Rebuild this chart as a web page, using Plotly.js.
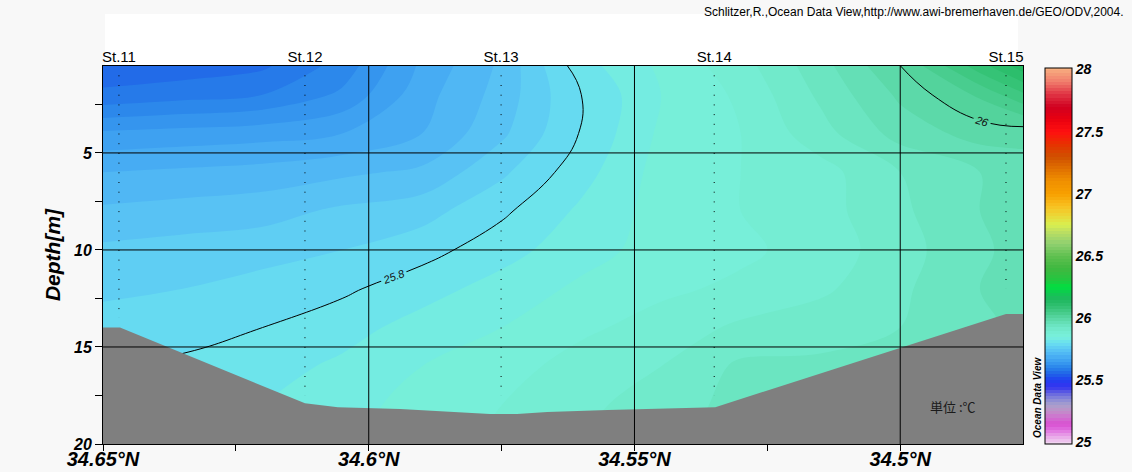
<!DOCTYPE html>
<html><head><meta charset="utf-8">
<script src="https://cdn.plot.ly/plotly-3.0.1.min.js"></script>
<style>html,body{margin:0;padding:0;background:#f8f8f8}</style>
</head><body><div id="chart" style="width:1132px;height:472px"></div>
<script>
// ---- Grid of the gridded temperature field (latitude x depth) ----
const gridLat = [34.65, 34.635, 34.62, 34.605, 34.59, 34.575, 34.56, 34.545, 34.53, 34.515, 34.50, 34.485, 34.4769];
const gridDepth = [0.5, 2, 4, 6, 8, 10, 12, 14, 16, 18, 20];
// temperature rows (°C), one per depth
const tD0_5 = [25.56, 25.56, 25.57, 25.61, 25.68, 25.73, 25.815, 25.855, 25.89, 25.94, 26.00, 26.09, 26.14];
const tD2   = [25.58, 25.59, 25.60, 25.63, 25.69, 25.735, 25.80, 25.85, 25.88, 25.93, 25.98, 26.03, 26.07];
const tD4   = [25.655, 25.66, 25.665, 25.675, 25.70, 25.745, 25.802, 25.855, 25.875, 25.915, 25.96, 25.985, 25.985];
const tD6   = [25.70, 25.705, 25.71, 25.72, 25.73, 25.77, 25.815, 25.86, 25.875, 25.89, 25.925, 25.95, 25.96];
const tD8   = [25.73, 25.735, 25.74, 25.755, 25.765, 25.795, 25.83, 25.86, 25.875, 25.89, 25.92, 25.95, 25.96];
const tD10  = [25.755, 25.76, 25.765, 25.775, 25.79, 25.815, 25.84, 25.86, 25.87, 25.885, 25.915, 25.945, 25.96];
const tD12  = [25.77, 25.775, 25.785, 25.795, 25.815, 25.835, 25.855, 25.87, 25.88, 25.895, 25.92, 25.95, 25.96];
const tD14  = [25.785, 25.79, 25.80, 25.815, 25.835, 25.85, 25.87, 25.885, 25.905, 25.915, 25.925, 25.945, 25.955];
const tD16  = [25.80, 25.805, 25.815, 25.83, 25.85, 25.865, 25.885, 25.9, 25.93, 25.93, 25.93, 25.945, 25.955];
const tD18  = [25.81, 25.815, 25.825, 25.84, 25.86, 25.875, 25.895, 25.91, 25.935, 25.935, 25.935, 25.945, 25.955];
const tD20  = [25.815, 25.82, 25.83, 25.845, 25.865, 25.88, 25.90, 25.915, 25.94, 25.94, 25.94, 25.95, 25.955];
const tempRows = [tD0_5, tD2, tD4, tD6, tD8, tD10, tD12, tD14, tD16, tD18, tD20];

// ---- Stations ----
const stationNames = ["St.11", "St.12", "St.13", "St.14", "St.15"];
const stationLat = [34.647, 34.612, 34.5751, 34.535, 34.4801];
const stationTopDepth = [1, 1, 1, 1, 1];
const stationSampleBottom = [13.5, 17.5, 17.5, 17.5, 12];

// ---- Bottom topography ----
const bottomLat = [34.65, 34.6468, 34.612, 34.6058, 34.5941, 34.5853, 34.5772, 34.5721, 34.5664, 34.555, 34.5439, 34.5348, 34.4801, 34.4769];
const bottomDepth = [14.0, 14.0, 17.9, 18.1, 18.2, 18.35, 18.45, 18.45, 18.35, 18.25, 18.15, 18.1, 13.3, 13.3];

// ---- Axes ----
const xRange = [34.65, 34.4769];
const yRange = [20, 0.52];
const xTickVals = [34.65, 34.6, 34.55, 34.5];
const xTickText = ["34.65°N", "34.6°N", "34.55°N", "34.5°N"];
const xMinorVals = [34.625, 34.575, 34.525];
const yTickVals = [5, 10, 15, 20];
const yMinorVals = [2.5, 7.5, 12.5, 17.5];
const contourLineLevels = [25.8, 26.0];

// ---- Colour bar (ODV style) ----
const cbTemps  = [25.0, 25.05, 25.1, 25.15, 25.2, 25.25, 25.3, 25.35, 25.4, 25.45, 25.5, 25.55, 25.6, 25.65, 25.7, 25.75, 25.8, 25.85, 25.9, 25.95, 26.0, 26.05, 26.1, 26.15, 26.2, 26.25, 26.3, 26.4, 26.5, 26.6, 26.7, 26.75, 26.85, 26.9, 27.0, 27.1, 27.2, 27.3, 27.4, 27.5, 27.6, 27.7, 27.8, 27.9, 28.0];
const cbColors = ["#f0d4f0", "#e8a4e8", "#e070e0", "#d850d0", "#d070d0", "#c090c8", "#a8a0cc", "#8888d8", "#6262e0", "#3434f0", "#2040f0", "#2064e8", "#2882ea", "#3a9cf0", "#4cb2f4", "#5cc8f4", "#6ae0f0", "#78f0dc", "#74ecd0", "#68e2bc", "#58d6a2", "#44ca88", "#30c070", "#20b860", "#10c850", "#00e040", "#20c840", "#40b840", "#60c050", "#90d070", "#c0e060", "#d8f050", "#f0d030", "#f8c020", "#f8a000", "#f09000", "#e07000", "#d05000", "#e83000", "#ff1010", "#e80010", "#d00020", "#e03444", "#f07c6c", "#f8b080"];
const cbTickVals = [25, 25.5, 26, 26.5, 27, 27.5, 28];
const cbTickText = ["25", "25.5", "26", "26.5", "27", "27.5", "28"];

const cStart = 25, cEnd = 28, cSize = 0.025;
const nc = Math.floor((cEnd - cStart) / cSize + 1e-6) + 1;
const tLo = cStart - cSize / 2, tSpan = nc * cSize;
const colorscale = cbTemps.map((t, i) => [Math.min(1, Math.max(0, (t - tLo) / tSpan)), cbColors[i]]);
colorscale[0][0] = 0; colorscale[colorscale.length - 1][0] = 1;

const FONT = "Liberation Sans, Arial, sans-serif";

const traces = [];
traces.push({
  type: 'contour', x: gridLat, y: gridDepth, z: tempRows,
  colorscale: colorscale,
  autocontour: false,
  contours: {coloring: 'fill', start: cStart, end: cEnd, size: cSize, showlines: false},
  line: {width: 0},
  hoverinfo: 'skip',
  colorbar: {
    thickness: 27, thicknessmode: 'pixels', len: 376, lenmode: 'pixels',
    x: 1.0239, xanchor: 'left', xpad: 0, y: 0.4974, yanchor: 'middle', ypad: 0,
    outlinecolor: 'black', outlinewidth: 1,
    tickmode: 'array', tickvals: cbTickVals, ticktext: cbTickText, ticks: '',
    tickfont: {family: FONT, size: 14, weight: 'bold', style: 'italic', color: 'black'}
  }
});
traces.push({
  type: 'contour', x: gridLat, y: gridDepth, z: tempRows, showscale: false,
  autocontour: false,
  contours: {coloring: 'none', start: contourLineLevels[0], end: contourLineLevels[1], size: contourLineLevels[1] - contourLineLevels[0],
    showlabels: true, labelfont: {family: FONT, size: 11, style: 'italic', color: '#111'}},
  line: {color: 'black', width: 1, smoothing: 1.3},
  hoverinfo: 'skip'
});
traces.push({
  type: 'scatter', mode: 'lines',
  x: bottomLat.concat([xRange[1], xRange[0]]),
  y: bottomDepth.concat([20, 20]),
  fill: 'toself', fillcolor: '#7f7f7f', line: {width: 0, color: '#7f7f7f'},
  hoverinfo: 'skip', showlegend: false
});
stationLat.forEach((lat, i) => {
  traces.push({
    type: 'scatter', mode: 'lines', xaxis: 'x2', yaxis: 'y',
    x: [lat, lat], y: [stationTopDepth[i], stationSampleBottom[i]],
    line: {color: 'black', width: 1, dash: '1px,8.7px'},
    hoverinfo: 'skip', showlegend: false
  });
});

const shapes = [];
xTickVals.slice(1).forEach(v => shapes.push({type: 'line', xref: 'x', yref: 'paper', x0: v, x1: v, y0: 0, y1: 1, line: {color: 'black', width: 1}, layer: 'above'}));
yTickVals.slice(0, 3).forEach(v => shapes.push({type: 'line', xref: 'paper', yref: 'y', x0: 0, x1: 1, y0: v, y1: v, line: {color: 'black', width: 1}, layer: 'above'}));
shapes.push({type: 'rect', xref: 'paper', yref: 'paper', x0: 0.0022, x1: 0.9946, y0: 1.0, y1: 1.1376, fillcolor: 'white', line: {width: 0}, layer: 'below'});

const layout = {
  width: 1132, height: 472,
  margin: {l: 103, r: 109, t: 66, b: 28, pad: 0},
  paper_bgcolor: '#f8f8f8', plot_bgcolor: 'white',
  font: {family: FONT, color: 'black'},
  showlegend: false,
  xaxis: {
    range: xRange, autorange: false, tickmode: 'array', tickvals: xTickVals, ticktext: xTickText,
    ticks: 'outside', ticklen: 6, tickcolor: 'black', tickwidth: 1, ticklabelstandoff: -9,
    minor: {tickmode: 'array', tickvals: xMinorVals, ticks: 'outside', ticklen: 6, tickcolor: 'black'},
    showline: true, mirror: true, linecolor: 'black', linewidth: 1,
    showgrid: false, zeroline: false, automargin: false,
    tickfont: {family: FONT, size: 20, weight: 'bold', style: 'italic', color: 'black'}
  },
  xaxis2: {
    overlaying: 'x', side: 'top', range: xRange, autorange: false,
    tickmode: 'array', tickvals: stationLat, ticktext: stationNames, ticks: '',
    showline: false, showgrid: false, zeroline: false, automargin: false,
    tickfont: {family: FONT, size: 15, color: 'black'}
  },
  yaxis: {
    range: yRange, autorange: false, tickmode: 'array', tickvals: yTickVals,
    ticks: 'outside', ticklen: 7, tickcolor: 'black',
    minor: {tickmode: 'array', tickvals: yMinorVals, ticks: 'outside', ticklen: 7, tickcolor: 'black'},
    showline: true, mirror: true, linecolor: 'black', linewidth: 1,
    showgrid: false, zeroline: false, automargin: false,
    tickfont: {family: FONT, size: 16, weight: 'bold', style: 'italic', color: 'black'},
    title: {text: 'Depth[m]', standoff: 6, font: {family: FONT, size: 21, weight: 'bold', style: 'italic', color: 'black'}}
  },
  shapes: shapes,
  annotations: [
    {xref: 'paper', yref: 'paper', x: 1.112, y: 1.1429, xanchor: 'right', yanchor: 'middle', showarrow: false,
     text: 'Schlitzer,R.,Ocean Data View,http://www.awi-bremerhaven.de/GEO/ODV,2004.', font: {family: FONT, size: 12, color: 'black'}},
    {xref: 'paper', yref: 'paper', x: 0.9239, y: 0.1005, xanchor: 'center', yanchor: 'middle', showarrow: false,
     text: '単位 :℃', font: {family: 'Noto Sans CJK JP, sans-serif', size: 13, color: '#1a1a1a'}},
    {xref: 'paper', yref: 'paper', x: 1.0152, y: 0.1243, xanchor: 'center', yanchor: 'middle', showarrow: false, textangle: -90,
     text: 'Ocean Data View', font: {family: FONT, size: 10, weight: 'bold', style: 'italic', color: 'black'}}
  ]
};

Plotly.newPlot('chart', traces, layout, {displayModeBar: false, staticPlot: true});
</script></body></html>
